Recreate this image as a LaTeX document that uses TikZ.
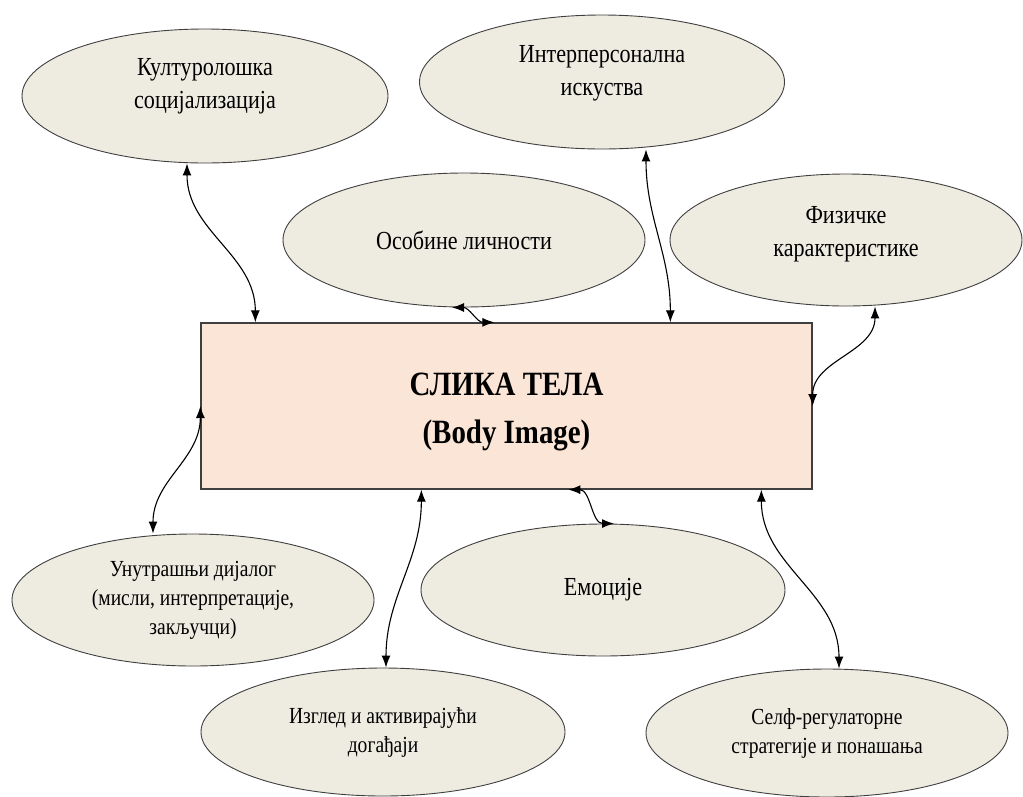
\documentclass[tikz,border=0pt]{standalone}
\usepackage{fontspec}
\setmainfont{Liberation Serif}[FakeStretch=0.85]
\usetikzlibrary{shapes.geometric,arrows.meta}
\definecolor{bubblefill}{HTML}{EEECE1}
\definecolor{boxfill}{HTML}{FBE5D6}
\definecolor{edgegray}{HTML}{3F3F3F}
\tikzset{
  bubble/.style={ellipse,draw=edgegray,fill=bubblefill,line width=0.9pt,inner sep=0pt,
    minimum width=364pt,minimum height=132pt,align=center,font=\fontsize{23}{29}\selectfont},
  bigtext/.style={font=\fontsize{26}{33}\selectfont},
  link/.style={{Latex[length=12pt,width=9pt]}-{Latex[length=12pt,width=9pt]},line width=1.1pt}
}
\begin{document}
\begin{tikzpicture}[x=1pt,y=1pt]
\useasboundingbox(0,0)rectangle(1023,-796);
% central box
\node[draw=edgegray,fill=boxfill,line width=1.3pt,minimum width=611pt,minimum height=166pt,
  align=center,text height=74pt,text depth=0pt,
  font=\bfseries\fontsize{34}{48}\selectfont](body)at(506.5,-406){СЛИКА ТЕЛА\\(Body Image)};
% upper ellipses
\node[bubble,bigtext,minimum width=366pt,minimum height=134pt,text depth=25pt](kult)at(205,-96){Културолошка\\социјализација};
\node[bubble,bigtext,minimum width=365pt,minimum height=134pt,text depth=23pt](inter)at(602,-82){Интерперсонална\\искуства};
\node[bubble,bigtext,minimum width=362pt,minimum height=134pt](osob)at(464,-240){Особине личности};
\node[bubble,bigtext,minimum width=352pt,text depth=18pt](fiz)at(846,-240){Физичке\\карактеристике};
% lower ellipses
\node[bubble,minimum width=362pt](unut)at(193,-600){Унутрашњи дијалог\\(мисли, интерпретације,\\закључци)};
\node[bubble,bigtext](emo)at(603,-590){Емоције};
\node[bubble,minimum height=128pt](izgled)at(383,-732){Изглед и активирајући\\догађаји};
\node[bubble,minimum width=362pt,minimum height=128pt](self)at(827,-733){Селф-регулаторне\\стратегије и понашања};
% connectors
\draw[link]([xshift=-18pt]kult.south)to[out=-90,in=90]([xshift=55pt]body.north west);
\draw[link]([xshift=44pt]inter.south)to[out=-90,in=90]([xshift=470pt]body.north west);
\draw[link]([xshift=-12pt]osob.south)to[out=0,in=180]([xshift=294pt]body.north west);
\draw[link]([xshift=29pt]fiz.south)to[out=-90,in=90](body.east);
\draw[link]([xshift=-40pt]unut.north)to[out=90,in=-90](body.west);
\draw[link]([xshift=221pt]body.south west)to[out=-90,in=90]([xshift=3pt]izgled.north);
\draw[link]([xshift=368pt]body.south west)to[out=0,in=180]([xshift=11pt]emo.north);
\draw[link]([xshift=561pt]body.south west)to[out=-90,in=90]([xshift=12pt]self.north);
\end{tikzpicture}
\end{document}
